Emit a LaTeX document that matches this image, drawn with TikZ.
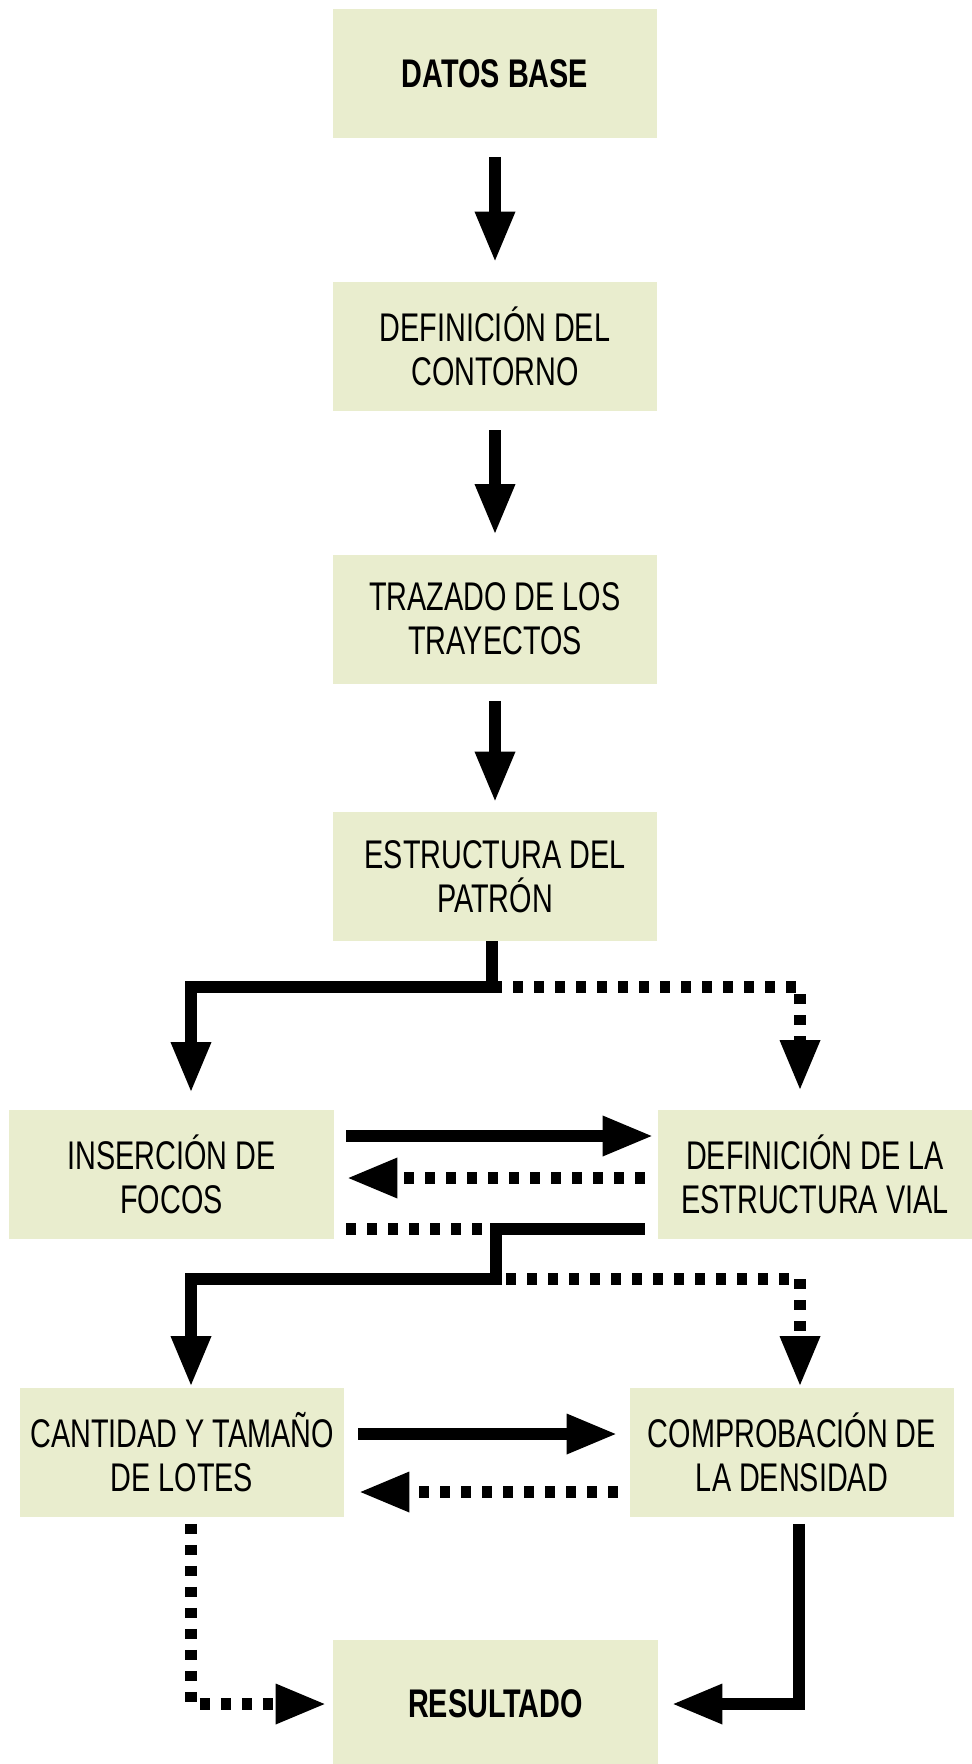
\documentclass[tikz,border=0pt]{standalone}
\usepackage{fontspec}
\setmainfont{Liberation Sans}[FakeStretch=0.72]
\usetikzlibrary{arrows.meta}
\definecolor{boxfill}{RGB}{233,237,206}
\begin{document}
\begin{tikzpicture}[x=0.5pt,y=-0.5pt,
        stepbox/.style={fill=boxfill,minimum width=162pt,minimum height=64.5pt,inner sep=0pt,align=center,font=\fontsize{20}{22}\selectfont},
        conn/.style={line width=6pt,-{Triangle[length=25.5pt,width=18.5pt]}},
        dots/.style={conn,dash pattern=on 5pt off 5.5pt}]
        \useasboundingbox (0,0) rectangle (972,1764);
        \node[stepbox,font=\fontsize{20}{22}\selectfont\bfseries] (datos) at (495,74) {DATOS BASE};
        \node[stepbox] (contorno) at (495,346.5) {DEFINICIÓN DEL\\CONTORNO};
        \node[stepbox] (trayectos) at (495,619) {TRAZADO DE LOS\\TRAYECTOS};
        \node[stepbox] (patron) at (495,876.5) {ESTRUCTURA DEL\\PATRÓN};
        \node[stepbox,minimum width=162.5pt] (focos) at (171.5,1174) {INSERCIÓN DE\\FOCOS};
        \node[stepbox,minimum width=157pt] (vial) at (815,1174) {DEFINICIÓN DE LA\\ESTRUCTURA VIAL};
        \node[stepbox] (lotes) at (182,1452) {CANTIDAD Y TAMAÑO\\DE LOTES};
        \node[stepbox] (densidad) at (792,1452) {COMPROBACIÓN DE\\LA DENSIDAD};
        \node[stepbox,minimum width=162.5pt,minimum height=64pt,font=\fontsize{20}{22}\selectfont\bfseries] (resultado) at (495.5,1704) {RESULTADO};
        \coordinate (j1) at (492,987);
        \coordinate (j2) at (496,1229);
        \coordinate (j3) at (496,1279);
        \draw[conn,shorten <=9pt,shorten >=9.5pt] (datos) -- (contorno);
        \draw[conn,shorten <=9.5pt,shorten >=9.5pt] (contorno) -- (trayectos);
        \draw[conn,shorten <=8.5pt,shorten >=4.5pt] (trayectos) -- (patron);
        \draw[dots,shorten >=9pt] (j1) -| ([xshift=-7.5pt]vial.north);
        \draw[conn,shorten >=8pt] (patron.south -| j1) -- (j1) -| ([xshift=9.75pt]focos.north);
        \draw[conn,shorten <=6pt,shorten >=2pt] ([yshift=19pt]focos.east) -- ([yshift=19pt]vial.west);
        \draw[dots,shorten <=6.5pt,shorten >=6pt] ([yshift=-2pt]vial.west) -- ([yshift=-2pt]focos.east);
        \draw[dots,shorten <=6pt] (focos.east |- j2) -- (j2) -- (j3) -| ([xshift=4pt]densidad.north);
        \draw[conn,shorten <=6.5pt] (vial.west |- j2) -- (j2) -- (j3) -| ([xshift=4.5pt]lotes.north);
        \draw[conn,shorten <=7pt,shorten >=6pt] ([yshift=9pt]lotes.east) -- ([yshift=9pt]densidad.west);
        \draw[dots,shorten <=6pt,shorten >=7pt] ([yshift=-20pt]densidad.west) -- ([yshift=-20pt]lotes.east);
        \draw[dots,shorten <=3.5pt,shorten >=3pt] ([xshift=4.5pt]lotes.south) |- (resultado.west);
        \draw[conn,shorten <=3.5pt,shorten >=6.5pt] ([xshift=3.5pt]densidad.south) |- (resultado.east);
\end{tikzpicture}
\end{document}
